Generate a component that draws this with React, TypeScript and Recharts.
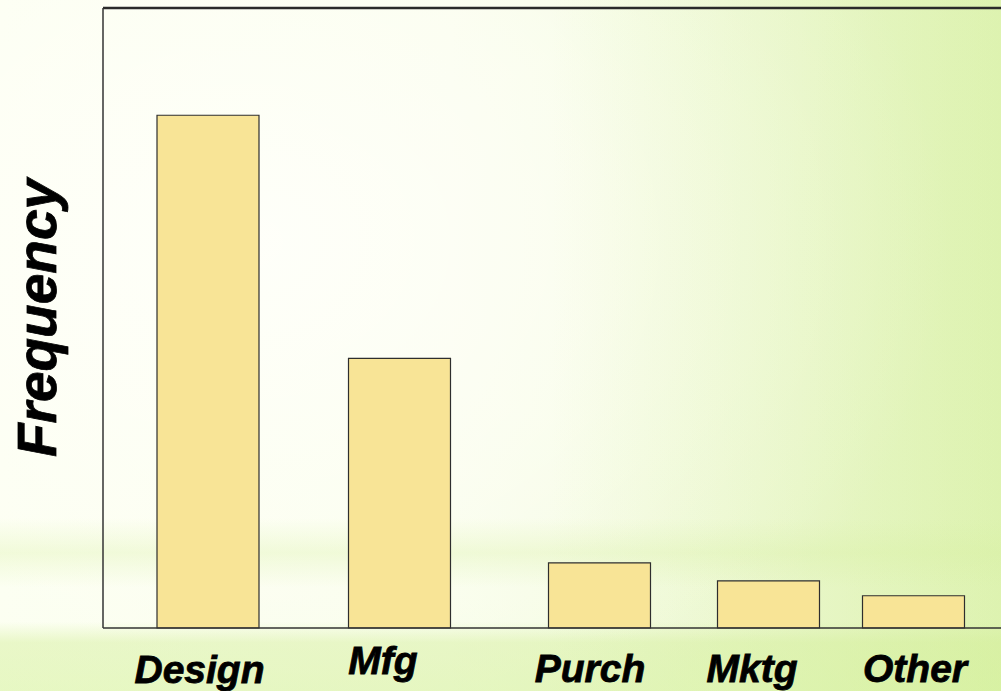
import React from "react";
import { BarChart, Bar, XAxis, YAxis, ReferenceLine } from "recharts";

// Department categories and their frequencies
const departments = ["Design", "Mfg", "Purch", "Mktg", "Other"];
const frequencies = [82.7, 43.5, 10.5, 7.6, 5.2];
// Horizontal slot of each category along the category axis
const slots = [104.5, 296, 496, 665, 810];

const data = departments.map((name, i) => ({
  name,
  slot: slots[i],
  frequency: frequencies[i],
}));

// Label nudges so the text sits where the layout wants it
const labelShift: Record<string, { dx: number; y: number }> = {
  Design: { dx: -8, y: 683 },
  Mfg: { dx: -16, y: 674 },
  Purch: { dx: -9, y: 682 },
  Mktg: { dx: -16, y: 682 },
  Other: { dx: 2, y: 682 },
};

const FONT = '"Liberation Sans", Arial, Helvetica, sans-serif';

const CategoryTick = (props: any) => {
  const { x, payload } = props;
  const idx = slots.indexOf(payload.value);
  const name = departments[idx] ?? "";
  const s = labelShift[name] ?? { dx: 0, y: 682 };
  return (
    <text
      x={x + s.dx}
      y={s.y}
      textAnchor="middle"
      fontFamily={FONT}
      fontWeight="bold"
      fontStyle="italic"
      fontSize={39}
      fill="#000"
      stroke="#000"
      strokeWidth={0.8}
    >
      {name}
    </text>
  );
};

export default function App() {
  return (
    <div
      style={{
        position: "absolute",
        left: 0,
        top: 0,
        width: 1001,
        height: 691,
        overflow: "hidden",
        background: [
          "linear-gradient(to bottom, rgba(255,255,255,0) 75%, rgba(215,240,160,0.3) 80%, rgba(255,255,255,0) 85%, rgba(255,255,255,0) 90%, rgba(210,238,150,0.45) 93%, rgba(210,240,150,0.5) 100%)",
          "linear-gradient(to right, rgba(255,255,255,0) 0%, rgba(255,255,255,0) 55%, rgba(205,238,135,0.35) 100%)",
          "radial-gradient(ellipse 70% 80% at 25% 35%, rgba(255,255,250,0.95) 0%, rgba(255,255,248,0.6) 50%, rgba(255,255,255,0) 100%)",
          "linear-gradient(to right, #fbffef 0%, #f7fde8 45%, #eef8d6 80%, #e6f5c6 100%)",
        ].join(", "),
      }}
    >
      <BarChart
        width={1001}
        height={691}
        data={data}
        margin={{ top: 8, right: 0, bottom: 0, left: 0 }}
      >
        <XAxis
          dataKey="slot"
          type="number"
          domain={[0, 898]}
          ticks={slots}
          height={63}
          tickLine={false}
          axisLine={{ stroke: "#333", strokeWidth: 1.5 }}
          tick={<CategoryTick />}
          interval={0}
        />
        <YAxis
          type="number"
          domain={[0, 100]}
          width={103}
          tick={false}
          tickLine={false}
          axisLine={{ stroke: "#333", strokeWidth: 1.5 }}
        />
        <ReferenceLine y={100} stroke="#2a2a2a" strokeWidth={2.5} />
        <Bar
          dataKey="frequency"
          barSize={102}
          fill="#f8e496"
          stroke="#2e2e2e"
          strokeWidth={1.2}
          isAnimationActive={false}
        />
        <text
          x={56}
          y={318}
          transform="rotate(-90 56 318)"
          textAnchor="middle"
          fontFamily={FONT}
          fontWeight="bold"
          fontStyle="italic"
          fontSize={55}
          fill="#000"
          stroke="#000"
          strokeWidth={0.8}
        >
          Frequency
        </text>
      </BarChart>
    </div>
  );
}
